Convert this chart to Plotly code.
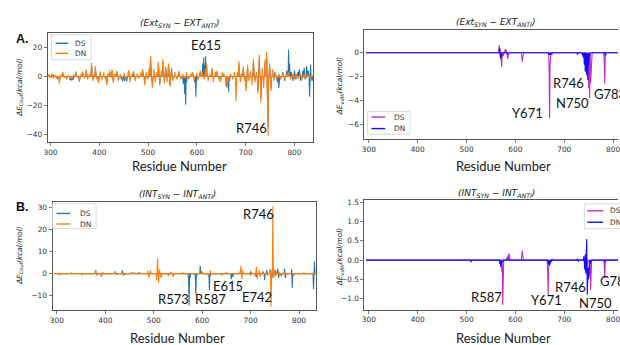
import plotly.graph_objects as go

W, H = 620, 345

# ---------------- data (residue -> energy difference spikes; 0 elsewhere) ----------------
residues = list(range(294, 842))

# Panel A left: Coulomb, (Ext_SYN - EXT_ANTI)
ext_coul_ds_res = [297, 301, 305, 312, 318, 325, 333, 340, 343, 346, 350, 352, 359, 366, 373, 384, 392, 398,
                   402, 415, 421, 426, 429, 436, 445, 448, 452, 456, 460, 470, 474, 489, 493, 505, 509, 521,
                   524, 530, 536, 542, 545, 548, 563, 572, 575, 577, 579, 591, 595, 598, 600, 607, 612, 614,
                   616, 618, 620, 631, 641, 648, 660, 662, 665, 667, 686, 695, 701, 704, 716, 725, 728, 731,
                   740, 743, 746, 749, 752, 760, 765, 768, 771, 776, 780, 784, 788, 790, 793, 797, 800, 803,
                   807, 810, 813, 817, 820, 822, 825, 828, 831, 833, 836]
ext_coul_ds_val = [1, -1, 1.5, -1, -3, 2, -1.5, -2.5, -2.8, -2.5, 1, 3, -3, 2.5, 4, 7, 5, -3.5,
                   2.5, -5, 3, 4, -3.5, 3, -2, -3.4, -3, -3.4, 4, 3, -2.5, 4, -5, 12, -7, 8,
                   -5, 10, 6, 7, -6, 5, 3, -5, -12, -19.5, -4, 2.5, -4, -14, -3, 3, 9, 13,
                   8, 14, 7, 5, 3, -3, -7, -6, -10.5, -3, 8, 5, -8, 6, 10, -10, 12, -15,
                   10, 14, -35, 7, -8, 3, -4, -8, -2, 3, -3, 4, 18.5, 9, 3, -3, 4, -2,
                   3, 5, -3, 4, 6, -2, 7, 4, -14, 8, -3]
ext_coul_dn_res = [297, 300, 303, 306, 310, 314, 318, 322, 325, 329, 333, 337, 340, 344, 348, 352, 356, 359,
                   363, 366, 370, 373, 376, 380, 384, 387, 390, 392, 395, 398, 402, 405, 409, 412, 415, 418,
                   421, 424, 426, 429, 432, 436, 439, 443, 447, 451, 455, 460, 463, 467, 470, 474, 478, 481,
                   485, 489, 493, 496, 499, 502, 505, 507, 509, 512, 515, 518, 521, 524, 527, 530, 533, 536,
                   539, 542, 545, 548, 551, 555, 559, 563, 567, 571, 575, 579, 583, 587, 591, 595, 599, 603,
                   607, 611, 615, 618, 620, 623, 627, 631, 634, 638, 641, 645, 648, 652, 655, 659, 662, 665,
                   669, 673, 677, 680, 683, 686, 689, 692, 695, 698, 701, 704, 707, 710, 713, 716, 719, 722,
                   725, 728, 731, 734, 737, 740, 743, 746, 749, 752, 755, 758, 761, 764, 768, 772, 776, 780,
                   784, 788, 792, 796, 800, 804, 808, 812, 816, 820, 824, 828, 832, 836]
ext_coul_dn_val = [1.5, -1, 2, -1.5, 1, -2, -5, 1.5, 3, -1, -2, 1, -1.5, -2, 1.5, 3.5, -1, -4,
                   2, 3.5, -1.5, 5, -2, 2, 9.5, -3, 2, 7, -2, -4.5, 3.5, -2, 3, -1.5, -6, 2,
                   4, -1, 5, -4.5, 2, 4, -3, 1.5, -2, 2.5, -1.5, 4.5, -4, 2, 3.5, -3, 2, -1.5,
                   3, 5, -6, 3, -2, 6, 14, -3, -8, 5, -4, 3, 10, -6, 4, 12, -5, 7,
                   -4, 9, -7, 6, -3, 3, -2, 4, -2, 2, -1, 3, -2, 2, 3, -3, 2, -2,
                   4, 3, -2, 5, 9, -3, 2, 6, -4, 3, 4, -2, -4, 3, 2, -3, -8, -3,
                   2, -2, 3, -17, 3, 10.5, -4, 2, 7, -3, -10, 8, -3, 4, -6, 12, -4, 3,
                   -12, 15, -18, 6, -8, 12, 17, -41, 9, -10, 5, -3, 2, -2, 1.5, -2, 2, -1.5,
                   2, 3, -2, 2, -2, 1.5, -1.5, 2, -2, 2, -1, 1.5, -1, 1]

# Panel A right: van der Waals, (Ext_SYN - EXT_ANTI)
ext_vdw_ds_res = [566, 567, 569, 571, 572, 575, 579, 581, 584, 585, 613, 614, 615, 669, 670, 671,
                  746, 748, 750, 752, 754, 755, 782, 783]
ext_vdw_ds_val = [0.3, 0.65, -0.4, -0.8, -1.2, -0.3, 0.3, 0.25, -0.5, -0.2, -0.3, -0.75, -0.4, -1.5, -5.5, -1.0,
                  -1.0, -1.8, -3.0, -3.8, -2.5, -0.8, -1.0, -2.6]
ext_vdw_dn_res = [568, 570, 571, 583, 668, 670, 672, 675, 727, 737, 739, 741, 743, 745, 746, 748,
                  750, 752, 784]
ext_vdw_dn_val = [0.4, -0.5, -0.3, -0.15, -0.1, -0.2, -0.15, -0.1, -0.15, -0.2, -0.4, -1.0, -1.6, -1.2, -1.9, -2.3,
                  -1.0, -0.3, -0.25]

# Panel B left: Coulomb, (INT_SYN - INT_ANTI)
int_coul_ds_res = [380, 383, 392, 420, 423, 435, 437, 455, 470, 490, 540, 572, 573, 575, 586, 587, 589, 596,
                   598, 613, 615, 617, 640, 660, 663, 700, 712, 725, 729, 733, 740, 744, 751, 756, 758, 763,
                   770, 772, 785, 786, 788, 830, 832]
int_coul_ds_val = [1.5, -0.5, -1, 1, -0.5, 1.5, -0.8, 0.5, 0.6, -1, -1, -3, -14.5, -2, -2, -9.5, -1, 3.5,
                   1, -1, -7.5, -1, -0.5, -2.5, -1.5, 1, -1.5, 1, -3, 1.5, 1.8, -2, 1.5, 2.3, -2, -1,
                   2.2, -2, 2, -6.5, -1, -7, 5.5]
int_coul_dn_res = [305, 330, 352, 380, 383, 392, 395, 420, 440, 460, 488, 490, 493, 506, 508, 510, 512, 515,
                   530, 535, 540, 560, 600, 613, 617, 640, 650, 678, 680, 682, 684, 700, 710, 712, 714, 718,
                   720, 725, 735, 740, 742, 744, 746, 748, 750, 752, 758, 762, 770, 790, 810, 830]
int_coul_dn_val = [-0.5, 0.4, -0.5, 1.2, -0.8, -1.5, 0.8, 0.8, -0.6, 0.5, 1.2, -1.8, 1.5, -3, 7, -4, 2, -2,
                   -1.2, 0.8, -1.5, 0.5, 1, -1, 1.5, -0.8, 0.8, 1, 3.5, -2.5, 1.5, -1, -1.5, 3, -2.5, 1.5,
                   -1.5, 1, -1, 1.2, -15, 2, 30.5, -2, 2, -1.2, 1, -1, 0.8, -0.6, 0.5, 0.5]

# Panel B right: van der Waals, (INT_SYN - INT_ANTI)
int_vdw_ds_res = [572, 574, 575, 583, 585, 587, 588, 613, 614, 615, 666, 667, 668, 746, 752, 754, 755, 782, 783]
int_vdw_ds_val = [-0.3, -1.17, -0.2, 0.08, 0.13, 0.17, 0.05, 0.1, 0.25, 0.1, -0.3, -0.91, -0.2, -0.3, -0.4, -0.78,
                  -0.2, -0.2, -0.46]
int_vdw_dn_res = [509, 568, 570, 571, 573, 583, 667, 669, 671, 673, 675, 727, 729, 740, 742, 743, 744, 745,
                  746, 747, 748, 749, 750, 751, 753, 784]
int_vdw_dn_val = [-0.05, -0.1, -0.18, -0.12, -0.05, 0.03, -0.1, -0.15, -0.12, -0.05, 0.03, 0.04, -0.04, 0.1, -0.25,
                  0.15, -0.35, 0.2, 0.55, -0.9, -0.4, -0.2, -0.5, -0.15, -0.1, -0.05]

x_ticks = [300, 400, 500, 600, 700, 800]
coul_ext_ticks = [20, 0, -20, -40]
vdw_ext_ticks = [0, -2, -4, -6]
coul_int_ticks = [30, 20, 10, 0, -10]
vdw_int_ticks = [1.5, 1.0, 0.5, 0.0, -0.5, -1.0]

C_DS_L, C_DN_L = "#1f77b4", "#ff7f0e"
C_DS_R, C_DN_R = "#c02cc6", "#1010f5"


def full_series(spike_res, spike_val):
    d = dict(zip(spike_res, spike_val))
    return [d.get(r, 0.0) for r in residues]


def px(x):
    return x / W


def py(y):
    return 1 - y / H


def minus(v, fmt):
    s = fmt.format(abs(v))
    return ("\u2212" + s) if v < 0 else s


fig = go.Figure()
panels = [
    ("x", "y", ext_coul_ds_res, ext_coul_ds_val, ext_coul_dn_res, ext_coul_dn_val, C_DS_L, C_DN_L),
    ("x2", "y2", ext_vdw_ds_res, ext_vdw_ds_val, ext_vdw_dn_res, ext_vdw_dn_val, C_DS_R, C_DN_R),
    ("x3", "y3", int_coul_ds_res, int_coul_ds_val, int_coul_dn_res, int_coul_dn_val, C_DS_L, C_DN_L),
    ("x4", "y4", int_vdw_ds_res, int_vdw_ds_val, int_vdw_dn_res, int_vdw_dn_val, C_DS_R, C_DN_R),
]
for xa, ya, dsr, dsv, dnr, dnv, cds, cdn in panels:
    fig.add_trace(go.Scatter(x=residues, y=full_series(dsr, dsv), mode="lines", name="DS",
                             line=dict(color=cds, width=1.1), xaxis=xa, yaxis=ya, showlegend=False))
    fig.add_trace(go.Scatter(x=residues, y=full_series(dnr, dnv), mode="lines", name="DN",
                             line=dict(color=cdn, width=1.1), xaxis=xa, yaxis=ya, showlegend=False))

tickfont = dict(family="DejaVu Sans", size=7.4, color="#333")
frame = "#555"


def xaxis(domain, rng, anchor):
    return dict(domain=domain, range=rng, anchor=anchor, tickvals=x_ticks, ticktext=[str(t) for t in x_ticks],
                ticks="outside", ticklen=3, tickwidth=0.8, tickcolor=frame, showline=True, linecolor=frame,
                linewidth=1, mirror=True, showgrid=False, zeroline=False, tickfont=tickfont,
                ticklabeloverflow="allow")


def yaxis(domain, rng, anchor, tv, fmt, mirror=True):
    return dict(domain=domain, range=rng, anchor=anchor, tickvals=tv, ticktext=[minus(v, fmt) for v in tv],
                ticks="outside", ticklen=3, tickwidth=0.8, tickcolor=frame, showline=True, linecolor=frame,
                linewidth=1, mirror=mirror, showgrid=False, zeroline=False, tickfont=tickfont)


fig.update_layout(
    width=W, height=H, margin=dict(l=0, r=0, t=0, b=0), paper_bgcolor="white", plot_bgcolor="white",
    xaxis=xaxis([px(44), px(312)], [294, 838], "y"),
    yaxis=yaxis([py(141), py(31)], [-45.3, 30.1], "x", coul_ext_ticks, "{:g}"),
    xaxis2=xaxis([px(364), 1.0], [291, 810], "y2"),
    yaxis2=yaxis([py(138.3), py(28.3)], [-7.3, 1.9], "x2", vdw_ext_ticks, "{:g}", mirror=False),
    xaxis3=xaxis([px(49), px(315)], [291, 835], "y3"),
    yaxis3=yaxis([py(310), py(200.7)], [-16.6, 32.7], "x3", coul_int_ticks, "{:g}"),
    xaxis4=xaxis([px(364), 1.0], [291, 810], "y4"),
    yaxis4=yaxis([py(309.3), py(199.3)], [-1.285, 1.56], "x4", vdw_int_ticks, "{:.1f}", mirror=False),
    showlegend=False,
)

ann = []
shapes = []


def paper_text(text, x, y, size, family="DejaVu Sans", angle=0, color="#222", xanchor="center"):
    ann.append(dict(text=text, x=px(x), y=py(y), xref="paper", yref="paper", showarrow=False,
                    xanchor=xanchor, yanchor="middle", textangle=angle,
                    font=dict(family=family, size=size, color=color)))


# panel titles
paper_text("<i>(Ext<sub>SYN</sub> \u2212 EXT<sub>ANTI</sub>)</i>", 178, 22, 9)
paper_text("<i>(Ext<sub>SYN</sub> \u2212 EXT<sub>ANTI</sub>)</i>", 497, 21, 9)
paper_text("<i>(INT<sub>SYN</sub> \u2212 INT<sub>ANTI</sub>)</i>", 175, 194, 9)
paper_text("<i>(INT<sub>SYN</sub> \u2212 INT<sub>ANTI</sub>)</i>", 497, 193, 9)
# panel letters
paper_text("<b>A.</b>", 19, 37.5, 12.5, family="Liberation Sans", color="#111")
paper_text("<b>B.</b>", 19, 206, 12.5, family="Liberation Sans", color="#111")
# x titles
for (x, y) in [(177, 165), (504, 165), (175, 338), (504, 338)]:
    paper_text("Residue Number", x, y, 13, family="Lato", color="#222")
# y titles
paper_text("<i>\u0394E<sub>Coul</sub>(kcal/mol)</i>", 15.5, 86, 7.3, angle=-90)
paper_text("<i>\u0394E<sub>vdW</sub>(kcal/mol)</i>", 339, 84, 7.3, angle=-90)
paper_text("<i>\u0394E<sub>Coul</sub>(kcal/mol)</i>", 15.5, 255, 7.3, angle=-90)
paper_text("<i>\u0394E<sub>vdW</sub>(kcal/mol)</i>", 339, 256, 7.3, angle=-90)

# residue labels (data coordinates)
labels = [
    ("x", "y", "E615", 619, 21.7, "center"), ("x", "y", "R746", 712, -35.8, "center"),
    ("x2", "y2", "Y671", 624, -5.08, "center"), ("x2", "y2", "R746", 708, -2.58, "center"),
    ("x2", "y2", "N750", 716, -4.25, "center"), ("x2", "y2", "G783", 757.6, -3.5, "left"),
    ("x3", "y3", "R573", 540.7, -11.3, "center"), ("x3", "y3", "R587", 617.4, -11.3, "center"),
    ("x3", "y3", "E615", 653, -5.4, "center"), ("x3", "y3", "E742", 712.5, -10.4, "center"),
    ("x3", "y3", "R746", 715.5, 27, "center"),
    ("x4", "y4", "R587", 541.6, -0.966, "center"), ("x4", "y4", "Y671", 663, -1.044, "center"),
    ("x4", "y4", "R746", 713, -0.707, "center"), ("x4", "y4", "N750", 764.6, -1.12, "center"),
    ("x4", "y4", "G783", 769.7, -0.55, "left"),
]
for xr, yr, t, x, y, xa in labels:
    ann.append(dict(text=t, x=x, y=y, xref=xr, yref=yr, showarrow=False, xanchor=xa, yanchor="middle",
                    font=dict(family="Lato", size=13, color="#111")))


# legends (box, line samples, labels)
def legend(box, line_x, text_x, rows, colors):
    x0, y0, x1, y1 = box
    shapes.append(dict(type="rect", xref="paper", yref="paper", x0=px(x0), x1=px(x1), y0=py(y1), y1=py(y0),
                       line=dict(color="#cfcfcf", width=0.8), fillcolor="rgba(255,255,255,0.85)", layer="above"))
    for name, ry, c in zip(["DS", "DN"], rows, colors):
        shapes.append(dict(type="line", xref="paper", yref="paper", x0=px(line_x[0]), x1=px(line_x[1]),
                           y0=py(ry), y1=py(ry), line=dict(color=c, width=1.4), layer="above"))
        paper_text(name, text_x, ry, 7.4, xanchor="left", color="#333")


legend((48, 33, 88, 58), (52, 65), 70, (41.5, 51.7), (C_DS_L, C_DN_L))
legend((367, 110, 410, 133), (371, 385), 392, (115.7, 127.3), (C_DS_R, C_DN_R))
legend((49, 203, 93, 228), (53, 67), 75, (212.7, 223.3), (C_DS_L, C_DN_L))
legend((586, 203, 640, 228), (589, 605), 610, (210, 221.5), (C_DS_R, C_DN_R))

fig.update_layout(annotations=ann, shapes=shapes)
fig.write_html("out.html", config={"displayModeBar": False, "staticPlot": True},
               post_script="document.body.style.margin='0px';document.body.style.overflow='hidden';")
